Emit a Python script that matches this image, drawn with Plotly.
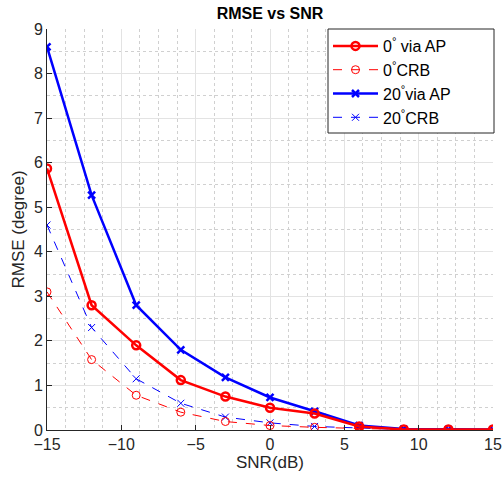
import plotly.graph_objects as go

snr = [-15, -12, -9, -6, -3, 0, 3, 6, 9, 12, 15]
ap0 = [5.87, 2.80, 1.90, 1.12, 0.75, 0.50, 0.37, 0.08, 0.01, 0.01, 0.01]
crb0 = [3.10, 1.58, 0.78, 0.40, 0.19, 0.10, 0.06, 0.03, 0.01, 0.01, 0.01]
ap20 = [8.60, 5.27, 2.80, 1.80, 1.18, 0.73, 0.42, 0.10, 0.02, 0.01, 0.01]
crb20 = [4.60, 2.30, 1.15, 0.60, 0.29, 0.16, 0.08, 0.04, 0.01, 0.01, 0.01]

names = ["0<sup>°</sup> via AP", "0<sup>°</sup>CRB", "20<sup>°</sup>via AP", "20<sup>°</sup>CRB"]

fig = go.Figure()
fig.add_trace(go.Scatter(x=snr, y=crb20, name=names[3], legendrank=4, mode="lines+markers",
                         line=dict(color="#0000ff", width=1, dash="dash"),
                         marker=dict(symbol="x-thin-open", size=7, line=dict(color="#0000ff", width=1))))
fig.add_trace(go.Scatter(x=snr, y=ap20, name=names[2], legendrank=3, mode="lines+markers",
                         line=dict(color="#0000ff", width=2.5),
                         marker=dict(symbol="x-thin-open", size=7, line=dict(color="#0000ff", width=2.5))))
fig.add_trace(go.Scatter(x=snr, y=crb0, name=names[1], legendrank=2, mode="lines+markers",
                         line=dict(color="#ff0000", width=1, dash="dash"),
                         marker=dict(symbol="circle-open", size=8, line=dict(color="#ff0000", width=1))))
fig.add_trace(go.Scatter(x=snr, y=ap0, name=names[0], legendrank=1, mode="lines+markers",
                         line=dict(color="#ff0000", width=2.5),
                         marker=dict(symbol="circle-open", size=8, line=dict(color="#ff0000", width=2.5))))

W, H = 502, 479
L, R, T, B = 47, 9, 29, 49
pw, ph = W - L - R, H - T - B

font = "Liberation Sans, Arial, sans-serif"
fig.update_layout(
    width=W, height=H,
    margin=dict(l=L, r=R, t=T, b=B, autoexpand=False),
    paper_bgcolor="white", plot_bgcolor="white",
    font=dict(family=font, size=16, color="#262626"),
    title=dict(text="<b>RMSE vs SNR</b>", x=0.5 * (L + W - R) / W, xanchor="center",
               y=1 - 13 / H, yanchor="middle", font=dict(size=16, color="black")),
    showlegend=True,
    legend=dict(x=(328 - L) / pw, y=1.0, xanchor="left", yanchor="top", bgcolor="rgba(0,0,0,0)",
                borderwidth=0, font=dict(size=16, color="black"),
                tracegroupgap=0, itemwidth=45),
    shapes=[dict(type="rect", xref="paper", yref="paper", layer="above",
                 x0=(328 - L) / pw, x1=(494 - L) / pw, y0=1 - (133 - T) / ph, y1=1.0,
                 fillcolor="white", line=dict(color="#262626", width=1))],
    xaxis=dict(range=[-15, 15], tickmode="array", tickvals=[-15, -10, -5, 0, 5, 10, 15],
               automargin=False,
               showgrid=True, gridcolor="#e3e3e3", gridwidth=1,
               showline=True, linecolor="#262626", linewidth=1, mirror=False,
               ticks="inside", ticklen=5, tickcolor="#262626",
               zeroline=False, tickfont=dict(size=16),
               minor=dict(dtick=1.25, tick0=-15, showgrid=True, gridcolor="#d0d0d0", griddash="dot", gridwidth=1),
               title=dict(text="SNR(dB)", font=dict(size=17, color="#262626"), standoff=2)),
    yaxis=dict(range=[0, 9], tickmode="array", tickvals=list(range(10)),
               automargin=False,
               showgrid=True, gridcolor="#e3e3e3", gridwidth=1,
               showline=True, linecolor="#262626", linewidth=1, mirror=False,
               ticks="inside", ticklen=5, tickcolor="#262626",
               zeroline=False, tickfont=dict(size=16),
               minor=dict(dtick=0.5, showgrid=True, gridcolor="#d0d0d0", griddash="dot", gridwidth=1),
               title=dict(text="RMSE (degree)", font=dict(size=17, color="#262626"), standoff=4)),
)
fig.write_html("out.html", config={"displayModeBar": False},
               post_script="document.body.style.margin='0';document.body.style.overflow='hidden';")
